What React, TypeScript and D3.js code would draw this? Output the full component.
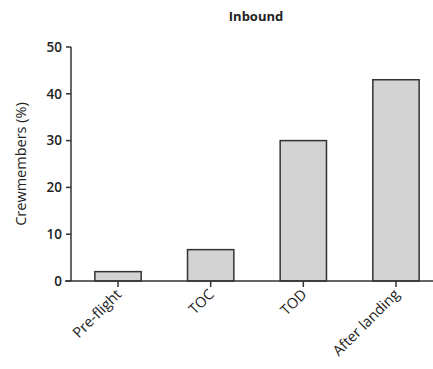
import React from "react";
import * as d3 from "d3";

const categories = ["Pre-flight", "TOC", "TOD", "After landing"];
const values = [2, 6.7, 30, 43];
const yTicks = [0, 10, 20, 30, 40, 50];
const title = "Inbound";
const yLabel = "Crewmembers (%)";

const W = 433;
const H = 369;
const FONT = "'Open Sans', 'DejaVu Sans', sans-serif";

export default function App() {
  const x = d3.scaleBand<string>().domain(categories).range([71.7, 442.3]).paddingInner(0.5).paddingOuter(0.25);
  const y = d3.scaleLinear().domain([0, 50]).range([281, 47]);
  const axisX = 71;
  const axisY = y(0);
  return (
    <svg width={W} height={H} style={{ position: "absolute", left: 0, top: 0, background: "#fff" }} fontFamily={FONT}>
      <text x={256} y={21} textAnchor="middle" fontSize={13} fontWeight={700} fill="#222">{title}</text>
      {categories.map((c, i) => (
        <rect key={c} x={x(c)!} y={y(values[i])} width={x.bandwidth()} height={axisY - y(values[i])}
          fill="#d3d3d3" stroke="#333" strokeWidth={1.5} />
      ))}
      <line x1={axisX} x2={axisX} y1={y(50)} y2={axisY} stroke="#333" strokeWidth={1.5} />
      <line x1={65} x2={433} y1={axisY} y2={axisY} stroke="#333" strokeWidth={1.5} />
      {yTicks.map(t => (
        <g key={t}>
          <line x1={axisX - 5} x2={axisX} y1={y(t)} y2={y(t)} stroke="#333" strokeWidth={1.5} />
          <text x={axisX - 9} y={y(t)} dy="0.35em" textAnchor="end" fontSize={13.5} fontWeight={600} fill="#222">{t}</text>
        </g>
      ))}
      {categories.map(c => {
        const cx = x(c)! + x.bandwidth() / 2;
        return (
          <g key={c}>
            <line x1={cx} x2={cx} y1={axisY} y2={axisY + 6} stroke="#333" strokeWidth={1.5} />
            <text transform={`translate(${cx - 3},${axisY + 7}) rotate(-45)`} textAnchor="end" dy="0.71em"
              fontSize={14.5} fill="#222">{c}</text>
          </g>
        );
      })}
      <text transform={`translate(26,${(y(50) + axisY) / 2}) rotate(-90)`} textAnchor="middle" fontSize={14.5} fill="#222">{yLabel}</text>
    </svg>
  );
}
